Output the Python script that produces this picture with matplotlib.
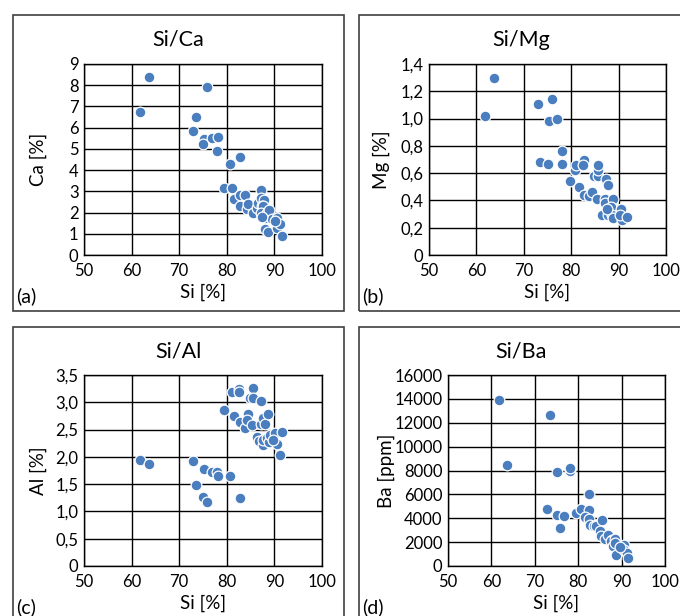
import matplotlib.pyplot as plt
from matplotlib.patches import Rectangle

plt.rcParams["font.family"] = ["Lato", "DejaVu Sans"]

W, H = 680, 616

# Si/Ca
si_ca = [63.7, 61.8, 75.8, 73.5, 72.9, 75.3, 75.1, 76.8, 78.1, 77.9, 82.8, 80.7,
         79.5, 81.1, 87.1, 81.5, 82.7, 83.8, 82.7, 84.2, 84.5, 85.5, 86.4, 86.6,
         87.1, 87.8, 87.4, 87.7, 87.1, 88.1, 88.5, 88.8, 88.1, 88.7, 89.4, 90.6,
         90.6, 91.1, 91.6, 90.2, 87.4]
ca = [8.4, 6.75, 7.9, 6.48, 5.83, 5.48, 5.25, 5.53, 5.58, 4.91, 4.64, 4.27,
      3.18, 3.14, 3.06, 2.65, 2.83, 2.81, 2.32, 2.15, 2.42, 2.0, 2.21, 2.45,
      2.69, 2.57, 2.29, 2.32, 1.97, 1.74, 1.97, 2.1, 1.22, 1.1, 1.71, 1.74,
      1.25, 1.45, 0.9, 1.58, 1.8]

# Si/Mg
si_mg = [63.7, 61.8, 72.9, 75.9, 75.3, 76.9, 78.1, 73.5, 75.2, 78.0, 79.7, 80.7,
         81.1, 82.6, 82.5, 81.6, 82.8, 83.8, 84.3, 84.8, 85.7, 85.7, 85.7, 85.4,
         87.3, 87.8, 87.2, 87.2, 88.8, 86.5, 87.8, 88.4, 88.6, 88.9, 90.5, 90.7,
         90.3, 91.7, 87.5]
mg = [1.30, 1.02, 1.11, 1.14, 0.98, 1.00, 0.76, 0.68, 0.67, 0.67, 0.54, 0.62,
      0.66, 0.70, 0.66, 0.50, 0.44, 0.43, 0.46, 0.58, 0.58, 0.62, 0.66, 0.41,
      0.56, 0.51, 0.41, 0.38, 0.41, 0.29, 0.29, 0.35, 0.29, 0.27, 0.34, 0.26,
      0.29, 0.28, 0.34]

# Si/Al
si_al = [61.8, 63.6, 72.9, 73.5, 75.3, 75.1, 75.9, 76.8, 77.9, 78.1, 80.7, 82.8,
         79.5, 81.1, 82.5, 82.5, 81.5, 82.7, 83.8, 84.5, 84.2, 85.3, 84.8, 85.6,
         85.6, 87.1, 86.3, 87.1, 87.6, 88.1, 88.7, 86.7, 87.6, 87.6, 88.4, 88.8,
         89.1, 90.2, 90.5, 91.2, 91.6, 89.8]
al = [1.95, 1.87, 1.92, 1.49, 1.77, 1.27, 1.18, 1.72, 1.73, 1.65, 1.65, 1.24,
      2.85, 3.19, 3.24, 3.19, 2.75, 2.64, 2.53, 2.78, 2.67, 2.58, 3.07, 3.26,
      3.08, 3.03, 2.37, 2.60, 2.72, 2.60, 2.78, 2.29, 2.22, 2.31, 2.34, 2.28,
      2.40, 2.43, 2.23, 2.04, 2.46, 2.31]

# Si/Ba
si_ba = [61.8, 73.5, 63.7, 75.2, 78.0, 78.1, 72.8, 75.2, 76.8, 75.8, 79.6, 80.6,
         82.6, 82.5, 81.5, 82.5, 82.7, 83.6, 84.2, 85.5, 85.0, 85.2, 86.2, 86.9,
         87.8, 87.5, 88.5, 88.1, 88.6, 88.5, 90.5, 90.5, 91.2, 91.5, 89.6]
ba = [13870, 12610, 8450, 7860, 7970, 8170, 4780, 4250, 4220, 3220, 4480, 4750,
      6070, 4730, 4080, 3970, 3470, 3360, 3330, 3860, 2910, 2520, 2290, 2570,
      2150, 2130, 2290, 1680, 900, 1930, 1730, 1370, 1090, 640, 1590]

ca_ticks = [0, 1, 2, 3, 4, 5, 6, 7, 8, 9]
mg_ticks = [0, 0.2, 0.4, 0.6, 0.8, 1.0, 1.2, 1.4]
mg_labels = ["0", "0,2", "0,4", "0,6", "0,8", "1,0", "1,2", "1,4"]
al_ticks = [0, 0.5, 1.0, 1.5, 2.0, 2.5, 3.0, 3.5]
al_labels = ["0", "0,5", "1,0", "1,5", "2,0", "2,5", "3,0", "3,5"]
ba_ticks = [0, 2000, 4000, 6000, 8000, 10000, 12000, 14000, 16000]
si_ticks = [50, 60, 70, 80, 90, 100]

BLUE = "#4a7ebf"


def frac(x0, y0, x1, y1):
    return [x0 / W, 1 - y1 / H, (x1 - x0) / W, (y1 - y0) / H]


fig = plt.figure(figsize=(W / 100, H / 100), dpi=100)

# panel border boxes
for bx0, by0, bx1, by1 in [(13, 15, 344, 311), (359, 15, 684, 311),
                           (13, 327, 344, 620), (359, 327, 684, 620)]:
    fig.add_artist(Rectangle((bx0 / W, 1 - by1 / H), (bx1 - bx0) / W, (by1 - by0) / H,
                             transform=fig.transFigure, fill=False,
                             edgecolor="#404040", linewidth=1.2))

panels = [
    (frac(84, 64, 322, 255), si_ca, ca, ca_ticks, None, 9, "Si/Ca", "Ca [%]", "(a)", 178, 40, 38, 292),
    (frac(429, 64, 666, 255), si_mg, mg, mg_ticks, mg_labels, 1.4, "Si/Mg", "Mg [%]", "(b)", 521, 40, 381, 292),
    (frac(84, 375, 322, 566), si_al, al, al_ticks, al_labels, 3.5, "Si/Al", "Al [%]", "(c)", 178, 351, 38, 603),
    (frac(448, 375, 665, 566), si_ba, ba, ba_ticks, None, 16000, "Si/Ba", "Ba [ppm]", "(d)", 521, 351, 386, 603),
]

for rect, xs, ys, yt, ylab, ymax, title, ylabel, tag, tx, ty, ylx, xly in panels:
    ax = fig.add_axes(rect)
    ax.scatter(xs, ys, s=60, color=BLUE, edgecolors="white", linewidths=0.9, zorder=3)
    ax.set_xlim(50, 100)
    ax.set_ylim(0, ymax)
    ax.set_xticks(si_ticks)
    ax.set_yticks(yt)
    if ylab is not None:
        ax.set_yticklabels(ylab)
    ax.grid(True, color="black", linewidth=1.0)
    ax.set_axisbelow(True)
    ax.tick_params(axis="x", length=0, labelsize=12, pad=6)
    ax.tick_params(axis="y", length=0, labelsize=12, pad=4)
    for s in ax.spines.values():
        s.set_color("black")
        s.set_linewidth(1.0)
    x_mid = (rect[0] + rect[2] / 2) * W
    fig.text(tx / W, 1 - ty / H, title, ha="center", va="center", fontsize=15.5)
    fig.text(ylx / W, rect[1] + rect[3] / 2, ylabel,
             rotation=90, ha="center", va="center", fontsize=13.5)
    fig.text(x_mid / W, 1 - xly / H, "Si [%]", ha="center", va="center", fontsize=13.5)
    fig.text((16 if tx < 300 else 362) / W, 1 - (xly + 4) / H, tag,
             ha="left", va="center", fontsize=14)

fig.savefig("out.png", dpi=100)
